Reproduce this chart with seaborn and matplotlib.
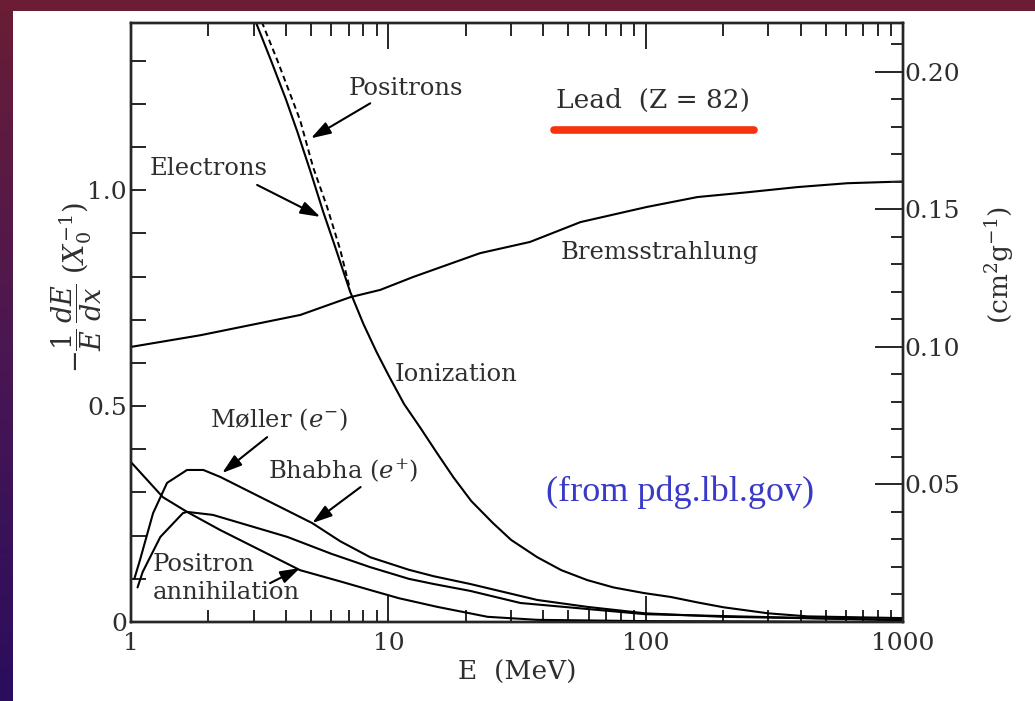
import numpy as np
import pandas as pd
import matplotlib
matplotlib.use("Agg")
import matplotlib.pyplot as plt
from matplotlib.ticker import FixedLocator, MultipleLocator, NullFormatter
import seaborn as sns

# === data: fractional energy loss per radiation length in lead ===
ion_e_E = [3.05, 3.5, 4.0, 4.43, 5.0, 5.58, 6.2, 7.1, 8.0, 9.0, 10, 11.5, 13.3, 15.5, 17.9, 21,
           25.5, 30, 37.9, 47, 59.3, 75, 98.5, 125, 160, 201, 300, 426, 1000]
ion_e_v = [1.39, 1.30, 1.21, 1.135, 1.04, 0.95, 0.87, 0.765, 0.69, 0.625, 0.572, 0.505, 0.45, 0.39,
           0.335, 0.28, 0.229, 0.19, 0.150, 0.12, 0.097, 0.08, 0.067, 0.058, 0.045, 0.034, 0.02, 0.013, 0.009]

ion_p_E = [3.22, 3.7, 4.54, 5.1, 5.78, 6.5, 7.1]
ion_p_v = [1.39, 1.301, 1.162, 1.053, 0.961, 0.862, 0.77]

brems_E = [1, 1.86, 4.55, 7.1, 9.3, 12.5, 22.7, 35.5, 55.8, 101, 159, 248, 388, 608, 1000]
brems_v = [0.637, 0.664, 0.711, 0.752, 0.769, 0.799, 0.854, 0.880, 0.926, 0.961, 0.984, 0.995, 1.007, 1.016, 1.020]

moller_E = [1.03, 1.084, 1.218, 1.38, 1.65, 1.91, 2.22, 5.06, 6.5, 8.5, 12, 15, 20.8, 37.9, 59.3, 100, 200, 1000]
moller_v = [0.10, 0.144, 0.252, 0.322, 0.352, 0.352, 0.336, 0.229, 0.187, 0.150, 0.121, 0.106, 0.088, 0.051, 0.035, 0.020, 0.012, 0.005]

bhabha_E = [1.06, 1.11, 1.30, 1.59, 1.65, 2.08, 4.05, 6.0, 8.5, 12, 15, 20.8, 32.6, 100, 1000]
bhabha_v = [0.08, 0.116, 0.197, 0.252, 0.255, 0.248, 0.197, 0.158, 0.127, 0.100, 0.088, 0.072, 0.044, 0.018, 0.004]

annih_E = [1.0, 1.33, 1.65, 2.22, 4.54, 6.5, 8.5, 11, 15.5, 24.3, 37.9, 100, 1000]
annih_v = [0.37, 0.289, 0.255, 0.213, 0.120, 0.094, 0.074, 0.055, 0.035, 0.012, 0.005, 0.002, 0.0]

x_ticks = [1, 10, 100, 1000]
x_labels = ["1", "10", "100", "1000"]
y_ticks = [0, 0.5, 1.0]
y_labels = ["0", "0.5", "1.0"]
r_ticks = [0.05, 0.10, 0.15, 0.20]
r_labels = ["0.05", "0.10", "0.15", "0.20"]
X0_inv = 1 / 6.37  # cm^2/g per X0 for lead

# === figure ===
sns.set_theme(style="ticks")
plt.rcParams["font.family"] = ["DejaVu Serif"]
plt.rcParams["mathtext.fontset"] = "dejavuserif"
txt = "#2e2e2e"

fig = plt.figure(figsize=(10.35, 7.01), dpi=100)
fig.patch.set_facecolor("white")

# slide border: top band and left gradient strip
bg = fig.add_axes([0, 0, 1, 1], zorder=-10)
bg.axis("off")
bg.set_xlim(0, 1035)
bg.set_ylim(701, 0)
bg.add_patch(plt.Rectangle((0, 0), 1035, 11, color="#6a1d35", lw=0))
grad = np.linspace(0, 1, 256)[:, None]
cmap = matplotlib.colors.LinearSegmentedColormap.from_list("slide", ["#6a1d35", "#4a1752", "#2a0d5e"])
bg.imshow(grad, extent=[0, 13, 701, 0], aspect="auto", cmap=cmap)

ax = fig.add_axes([0.1266, 0.1127, 0.7459, 0.8545])
ax.set_xscale("log")

curves = [
    (ion_e_E, ion_e_v),
    (brems_E, brems_v),
    (moller_E, moller_v),
    (bhabha_E, bhabha_v),
    (annih_E, annih_v),
]
for E, v in curves:
    sns.lineplot(x=E, y=v, ax=ax, color="black", lw=1.5, sort=False)
sns.lineplot(x=ion_p_E, y=ion_p_v, ax=ax, color="black", lw=1.4, sort=False,
             linestyle=(0, (3, 2)))

ax.set_xlim(1, 1000)
ax.set_ylim(0, 1.387)
ax.xaxis.set_major_locator(FixedLocator(x_ticks))
ax.set_xticklabels(x_labels)
ax.xaxis.set_minor_locator(matplotlib.ticker.LogLocator(base=10, subs=np.arange(2, 10)))
ax.xaxis.set_minor_formatter(NullFormatter())
ax.yaxis.set_major_locator(FixedLocator(y_ticks))
ax.set_yticklabels(y_labels)
ax.yaxis.set_minor_locator(MultipleLocator(0.1))
ax.tick_params(axis="x", which="major", direction="in", length=19, width=1.4, top=True,
               labelsize=18, labelcolor=txt, pad=7)
ax.tick_params(axis="x", which="minor", direction="in", length=9, width=1.4, top=True)
ax.tick_params(axis="y", which="both", direction="in", length=11, width=1.4,
               labelsize=18, labelcolor=txt, pad=3)
for s in ax.spines.values():
    s.set_linewidth(1.7)
    s.set_color("black")

ax2 = ax.twinx()
ax2.set_ylim(0, 1.387 * X0_inv)
ax2.yaxis.set_major_locator(FixedLocator(r_ticks))
ax2.set_yticklabels(r_labels)
ax2.yaxis.set_minor_locator(MultipleLocator(0.01))
ax2.tick_params(axis="y", which="major", direction="in", length=20, width=1.4,
                labelsize=18, labelcolor=txt, pad=1)
ax2.tick_params(axis="y", which="minor", direction="in", length=9, width=1.4)
for s in ax2.spines.values():
    s.set_linewidth(1.7)

ax.set_xlabel("E  (MeV)", fontsize=19, color=txt, labelpad=4)
fig.text(0.074, 0.59, r"$-\dfrac{1}{E}\,\dfrac{dE}{dx}\ (X_0^{-1})$", rotation=90,
         fontsize=19.5, color=txt, ha="center", va="center")
fig.text(0.966, 0.622, r"$(\mathrm{cm}^2\mathrm{g}^{-1})$", rotation=90,
         fontsize=19, color=txt, ha="center", va="center")

# === labels and arrows ===
lab = dict(fontsize=17.5, color=txt)
arw = dict(arrowstyle="-|>,head_length=1.0,head_width=0.32", color="black", lw=1.5,
           shrinkA=0, shrinkB=0)
ax.text(11.7, 1.236, "Positrons", ha="center", va="center", **lab)
ax.annotate("", xy=(5.0, 1.12), xytext=(8.5, 1.201), arrowprops=arw)
ax.text(1.995, 1.051, "Electrons", ha="center", va="center", **lab)
ax.annotate("", xy=(5.44, 0.938), xytext=(3.09, 1.012), arrowprops=arw)
ax.text(10.6, 0.572, "Ionization", ha="left", va="center", **lab)
ax.text(46.7, 0.856, "Bremsstrahlung", ha="left", va="center", **lab)
ax.text(2.03, 0.468, r"Møller ($e^{-}$)", ha="left", va="center", **lab)
ax.annotate("", xy=(2.26, 0.345), xytext=(3.38, 0.428), arrowprops=arw)
ax.text(3.41, 0.352, r"Bhabha ($e^{+}$)", ha="left", va="center", **lab)
ax.annotate("", xy=(5.06, 0.229), xytext=(7.8, 0.3125), arrowprops=arw)
ax.text(1.21, 0.132, "Positron", ha="left", va="center", **lab)
ax.text(1.21, 0.069, "annihilation", ha="left", va="center", **lab)
ax.annotate("", xy=(4.54, 0.125), xytext=(3.47, 0.09), arrowprops=arw)

ax.text(45, 1.208, "Lead  (Z = 82)", ha="left", va="center", fontsize=19, color=txt)
ax.axhline(1.139, xmin=0.548, xmax=0.807, color="#f5330c", lw=5.5)
ax.text(40.9, 0.301, "(from pdg.lbl.gov)", ha="left", va="center", fontsize=26,
        color="#3a3ac8", family=["Liberation Serif"])

fig.savefig("out.png", dpi=100)
